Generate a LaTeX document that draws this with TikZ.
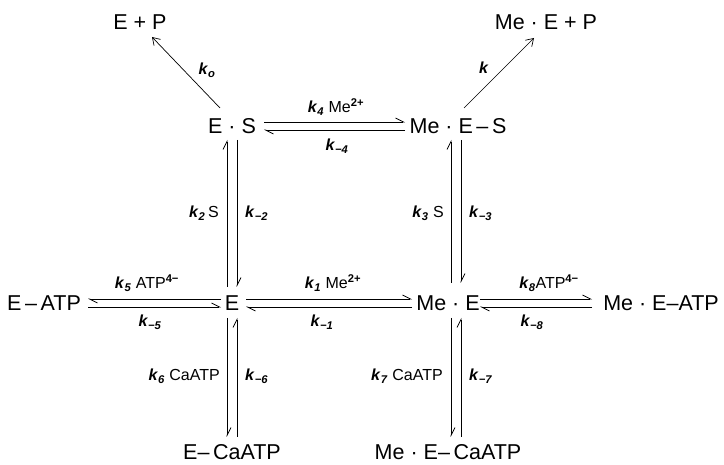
\documentclass[tikz,border=0pt]{standalone}
\usepackage{fontspec}
\setmainfont{Liberation Sans}
\usetikzlibrary{arrows.meta}
\newcommand{\kk}[1]{\textbf{\textit{k}}\textsubscript{\textbf{\textit{#1}}}}
\newcommand{\sups}[1]{\textsuperscript{\textbf{#1}}}
\begin{document}
\begin{tikzpicture}[x=1pt,y=-1pt,
  sp/.style={inner sep=0pt, font=\fontsize{21.5}{24}\selectfont},
  lb/.style={inner sep=0pt, font=\fontsize{16}{18}\selectfont},
  hp/.style={line width=0.7pt, -{Straight Barb[harpoon,length=8pt,width=8pt]}},
  ar/.style={line width=0.7pt, -{Straight Barb[length=7pt,width=9pt]}}]
\useasboundingbox (0,0) rectangle (724,465);
% species
\node[sp] (EP)    at (140,22)  {E + P};
\node[sp] (MEP)   at (546,22)  {Me · E + P};
\node[sp] (ES)    at (232,126) {E · S};
\node[sp] (MES)   at (458,126) {Me · E\,–\,S};
\node[sp] (EATP)  at (44,303)  {E\,–\,ATP};
\node[sp] (E)     at (232,303) {E};
\node[sp] (ME)    at (448,303) {Me · E};
\node[sp] (MEATP) at (661,303) {Me · E–ATP};
\node[sp] (ECa)   at (232,452) {E–\,CaATP};
\node[sp] (MECa)  at (448,452) {Me · E–\,CaATP};
% product arrows
\draw[ar] ([shift={(-12,-18)}]ES.center) -- ([shift={(12,15)}]EP.center);
\draw[ar] ([shift={(6,-18)}]MES.center) -- ([shift={(-12,16)}]MEP.center);
% E.S <-> Me.E-S
\draw[hp] ([shift={(32,-4)}]ES.center) -- ([shift={(-53,-4)}]MES.center);
\draw[hp] ([shift={(-53,4)}]MES.center) -- ([shift={(32,4)}]ES.center);
% E-ATP <-> E
\draw[hp] ([shift={(-11,-4)}]E.center) -- ([shift={(44,-4)}]EATP.center);
\draw[hp] ([shift={(44,4)}]EATP.center) -- ([shift={(-11,4)}]E.center);
% E <-> Me.E
\draw[hp] ([shift={(14,-4)}]E.center) -- ([shift={(-36,-4)}]ME.center);
\draw[hp] ([shift={(-36,4)}]ME.center) -- ([shift={(14,4)}]E.center);
% Me.E <-> Me.E-ATP
\draw[hp] ([shift={(32,-4)}]ME.center) -- ([shift={(-69,-4)}]MEATP.center);
\draw[hp] ([shift={(-69,4)}]MEATP.center) -- ([shift={(32,4)}]ME.center);
% E.S <-> E
\draw[hp] ([shift={(-5,-16)}]E.center) -- ([shift={(-5,14)}]ES.center);
\draw[hp] ([shift={(5,14)}]ES.center) -- ([shift={(5,-16)}]E.center);
% Me.E-S <-> Me.E
\draw[hp] ([shift={(3,-20)}]ME.center) -- ([shift={(-7,14)}]MES.center);
\draw[hp] ([shift={(3,14)}]MES.center) -- ([shift={(13,-20)}]ME.center);
% E <-> E-CaATP
\draw[hp] ([shift={(-5,15)}]E.center) -- ([shift={(-5,-15)}]ECa.center);
\draw[hp] ([shift={(5,-15)}]ECa.center) -- ([shift={(5,15)}]E.center);
% Me.E <-> Me.E-CaATP
\draw[hp] ([shift={(3,15)}]ME.center) -- ([shift={(3,-15)}]MECa.center);
\draw[hp] ([shift={(13,-15)}]MECa.center) -- ([shift={(13,15)}]ME.center);
% labels
\node[lb] (l0)  at (207,70)  {\kk{o}};
\node[lb] (lk)  at (484,68)  {\textbf{\textit{k}}};
\node[lb] (l4)  at (336,107) {\kk{4} Me\sups{2+}};
\node[lb] (lm4) at (337,146) {\kk{−4}};
\node[lb] (l5)  at (147,283) {\kk{5} ATP\sups{4−}};
\node[lb] (lm5) at (150,322) {\kk{−5}};
\node[lb] (l1)  at (333,283) {\kk{1} Me\sups{2+}};
\node[lb] (lm1) at (322,322) {\kk{−1}};
\node[lb] (l8)  at (549,283) {\kk{8}ATP\sups{4−}};
\node[lb] (lm8) at (532,322) {\kk{−8}};
\node[lb,anchor=east] (l2)  at (219,213) {\kk{2}\,S};
\node[lb,anchor=west] (lm2) at (245,213) {\kk{−2}};
\node[lb,anchor=east] (l3)  at (444,213) {\kk{3} S};
\node[lb,anchor=west] (lm3) at (469,213) {\kk{−3}};
\node[lb,anchor=east] (l6)  at (220,376) {\kk{6} CaATP};
\node[lb,anchor=west] (lm6) at (245,376) {\kk{−6}};
\node[lb,anchor=east] (l7)  at (443,376) {\kk{7} CaATP};
\node[lb,anchor=west] (lm7) at (469,376) {\kk{−7}};
\end{tikzpicture}
\end{document}
